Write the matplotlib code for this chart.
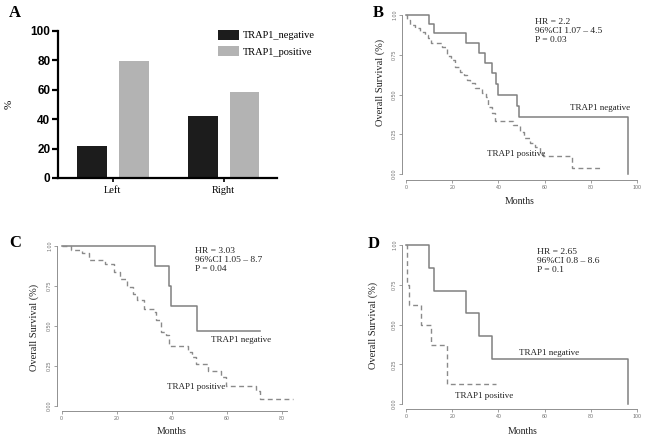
import matplotlib
matplotlib.use("Agg")
import matplotlib.pyplot as plt
from matplotlib.patches import Patch

# ---------------- data ----------------
sides = ["Left", "Right"]
trap1_negative = [21.5, 42.5]
trap1_positive = [79.5, 58.5]
bar_yticks = [0, 20, 40, 60, 80, 100]

# Panel B
b_neg_t = [0, 10, 12, 26, 31.4, 34.2, 37.1, 38.9, 39.7, 48, 49.1, 96]
b_neg_s = [1, 0.943, 0.885, 0.822, 0.759, 0.696, 0.633, 0.566, 0.50, 0.428, 0.356, 0]
b_pos_t = [0, 0.6, 1.7, 3.9, 6.1, 8.2, 9.7, 10.7, 15.5, 17.6, 19.5, 21.2, 23.4, 24.9,
           26.3, 27.7, 29.9, 32.8, 34.7, 35.7, 37.1, 38.6, 46.5, 49.4, 50.9, 53.8, 56,
           58, 59.5, 72, 84]
b_pos_s = [1, 0.969, 0.937, 0.916, 0.895, 0.874, 0.853, 0.822, 0.80, 0.74, 0.717, 0.675,
           0.644, 0.623, 0.591, 0.570, 0.539, 0.507, 0.486, 0.423, 0.382, 0.335, 0.308,
           0.266, 0.229, 0.197, 0.172, 0.14, 0.115, 0.036, 0.036]

# Panel C
c_neg_t = [0, 34, 39, 39.8, 49.2, 72]
c_neg_s = [1, 0.875, 0.75, 0.625, 0.468, 0.468]
c_pos_t = [0, 3.5, 7.4, 9.8, 15.9, 18.9, 21.1, 23.8, 25.9, 27.4, 29.9, 33.5, 34.4, 36,
           37.8, 38.9, 45.9, 47.4, 49, 53.2, 58, 59.9, 70.8, 72, 84]
c_pos_s = [1, 0.975, 0.954, 0.912, 0.891, 0.839, 0.797, 0.745, 0.704, 0.662, 0.610,
           0.589, 0.537, 0.463, 0.443, 0.374, 0.338, 0.307, 0.265, 0.223, 0.182, 0.129,
           0.098, 0.046, 0.046]

# Panel D
d_neg_t = [0, 10, 12.3, 26, 31.4, 37.3, 96]
d_neg_s = [1, 0.857, 0.714, 0.571, 0.429, 0.286, 0]
d_pos_t = [0, 0.6, 1.3, 6.4, 10.8, 17.9, 38.9]
d_pos_s = [1, 0.75, 0.625, 0.5, 0.375, 0.125, 0.125]

km_yticks = [0, 0.25, 0.5, 0.75, 1.0]
km_yticklabels = ["0.00", "0.25", "0.50", "0.75", "1.00"]

W, H = 650, 438
SERIF = ["Liberation Serif", "DejaVu Serif"]
SANS = ["Liberation Sans", "DejaVu Sans"]

fig = plt.figure(figsize=(W / 100, H / 100), dpi=100)
fig.patch.set_facecolor("white")


def add_axes_px(left, top, right, bottom):
    return fig.add_axes([left / W, 1 - bottom / H, (right - left) / W, (bottom - top) / H])


def ftext(x, y, s, **kw):
    fig.text(x / W, 1 - y / H, s, **kw)


# ---------------- Panel A ----------------
axA = add_axes_px(58, 31, 277, 178)
xs = list(range(len(sides)))
w = 0.27
off = 0.187
axA.bar([x - off for x in xs], trap1_negative, width=w, color="#1c1c1c", label="TRAP1_negative")
axA.bar([x + off for x in xs], trap1_positive, width=w, color="#b3b3b3", label="TRAP1_positive")
axA.set_xlim(-0.495, 1.48)
axA.set_ylim(0, 100)
axA.set_yticks(bar_yticks)
axA.set_yticklabels([str(v) for v in bar_yticks], fontfamily=SANS, fontweight="bold", fontsize=8.5)
axA.set_xticks(xs)
axA.set_xticklabels(sides, fontfamily=SERIF, fontsize=7.5)
axA.tick_params(axis="y", length=4, width=1.6, pad=1.5)
axA.tick_params(axis="x", length=3, width=1.2, pad=3)
for sp in ["top", "right"]:
    axA.spines[sp].set_visible(False)
for sp in ["left", "bottom"]:
    axA.spines[sp].set_linewidth(1.6)
axA.set_ylabel("%", fontfamily=SERIF, fontsize=8, labelpad=12)
handles = [Patch(facecolor="#1c1c1c", label="TRAP1_negative"),
           Patch(facecolor="#b3b3b3", label="TRAP1_positive")]
fig.legend(handles=handles, loc="upper left", bbox_to_anchor=(216 / W, 1 - 28 / H),
           frameon=False, prop={"family": SERIF, "size": 7.5}, handlelength=2.0,
           handleheight=1.05, labelspacing=0.55, handletextpad=0.4, borderaxespad=0,
           borderpad=0.2)
ftext(9, 17, "A", fontfamily=SERIF, fontweight="bold", fontsize=12, ha="left", va="baseline")


# ---------------- KM panels ----------------
def km_panel(box, xlim, ylim, xbound, xticks, neg, pos):
    ax = add_axes_px(*box)
    ax.step(neg[0], neg[1], where="post", color="#808080", lw=1.1)
    ax.step(pos[0], pos[1], where="post", color="#8a8a8a", lw=1.0, linestyle=(0, (3.5, 2.5)))
    ax.set_xlim(*xlim)
    ax.set_ylim(*ylim)
    for sp in ["top", "right"]:
        ax.spines[sp].set_visible(False)
    for sp in ["left", "bottom"]:
        ax.spines[sp].set_color("#909090")
        ax.spines[sp].set_linewidth(0.7)
    ax.spines["left"].set_bounds(0, 1)
    ax.spines["bottom"].set_bounds(*xbound)
    ax.set_yticks(km_yticks)
    ax.set_yticklabels(km_yticklabels, rotation=90, va="center", fontsize=3.8,
                       color="#707070", fontfamily=SANS)
    ax.set_xticks(xticks)
    ax.set_xticklabels([str(v) for v in xticks], fontsize=3.8, color="#707070", fontfamily=SANS)
    ax.tick_params(length=2, width=0.6, color="#909090", pad=1.5)
    return ax


TXT = dict(fontfamily=SERIF, fontsize=6.5, color="#222222")
STAT = dict(fontfamily=SERIF, fontsize=6.8, color="#222222", ha="left", va="top", linespacing=1.2)
YL = dict(fontfamily=SERIF, fontsize=7.5, color="#222222", rotation=90, ha="center", va="center")
XL = dict(fontfamily=SERIF, fontsize=7, color="#222222", ha="center", va="center")

# Panel B
km_panel((402, 13, 640, 180), (-1.73, 101.3), (-0.038, 1.013), (0, 100), [0, 20, 40, 60, 80, 100],
         (b_neg_t, b_neg_s), (b_pos_t, b_pos_s))
ftext(373, 17, "B", fontfamily=SERIF, fontweight="bold", fontsize=12, ha="left", va="baseline")
ftext(535, 18, "HR = 2.2\n96%CI 1.07 \u2013 4.5\nP = 0.03", **STAT)
ftext(570, 110, "TRAP1 negative", ha="left", va="baseline", **TXT)
ftext(487, 156, "TRAP1 positive", ha="left", va="baseline", **TXT)
ftext(380, 82, "Overall Survival (%)", **YL)
ftext(520, 201, "Months", **XL)

# Panel C
km_panel((57, 241, 298, 411), (-1.7, 85.9), (-0.03, 1.032), (0, 82), [0, 20, 40, 60, 80],
         (c_neg_t, c_neg_s), (c_pos_t, c_pos_s))
ftext(9, 247, "C", fontfamily=SERIF, fontweight="bold", fontsize=12, ha="left", va="baseline")
ftext(195, 247, "HR = 3.03\n96%CI 1.05 \u2013 8.7\nP = 0.04", **STAT)
ftext(211, 342, "TRAP1 negative", ha="left", va="baseline", **TXT)
ftext(167, 389, "TRAP1 positive", ha="left", va="baseline", **TXT)
ftext(34, 327, "Overall Survival (%)", **YL)
ftext(172, 431, "Months", **XL)

# Panel D
km_panel((402, 240, 640, 409), (-1.73, 101.3), (-0.03, 1.032), (0, 100), [0, 20, 40, 60, 80, 100],
         (d_neg_t, d_neg_s), (d_pos_t, d_pos_s))
ftext(368, 248, "D", fontfamily=SERIF, fontweight="bold", fontsize=12, ha="left", va="baseline")
ftext(537, 248, "HR = 2.65\n96%CI 0.8 \u2013 8.6\nP = 0.1", **STAT)
ftext(519, 355, "TRAP1 negative", ha="left", va="baseline", **TXT)
ftext(455, 398, "TRAP1 positive", ha="left", va="baseline", **TXT)
ftext(373, 325, "Overall Survival (%)", **YL)
ftext(523, 431, "Months", **XL)

fig.savefig("out.png", dpi=100, facecolor="white")
